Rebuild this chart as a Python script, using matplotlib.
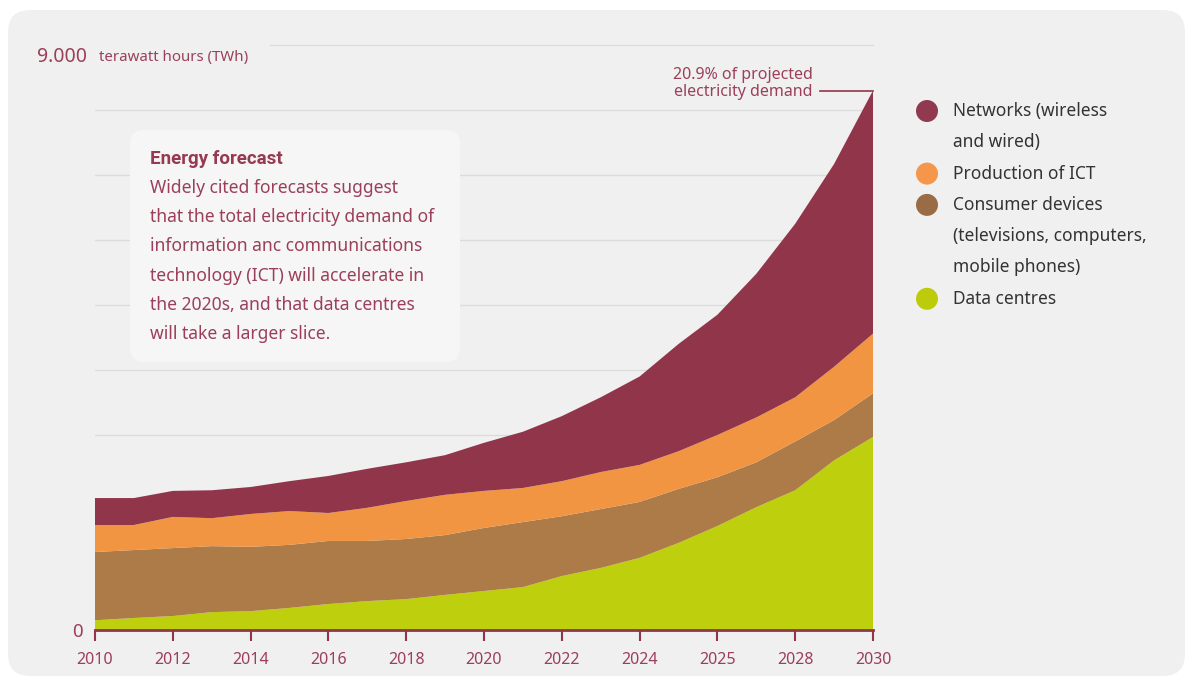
import matplotlib
matplotlib.use("Agg")
import matplotlib.pyplot as plt
from matplotlib.patches import FancyBboxPatch, Circle
from matplotlib.transforms import IdentityTransform, offset_copy
import numpy as np

plt.rcParams['font.family'] = ['Noto Sans', 'DejaVu Sans']

# values (TWh)
years = list(range(2010, 2031))
data_centres = [150, 185, 215, 275, 290, 340, 400, 445, 475, 540, 600,
                660, 830, 955, 1110, 1340, 1600, 1890, 2150, 2610, 2970]
consumer_devices = [1050, 1045, 1045, 1015, 990, 970, 970, 925, 925, 920, 970,
                    1000, 920, 905, 860, 830, 750, 690, 750, 620, 670]
production_ict = [415, 385, 480, 430, 505, 520, 430, 510, 585, 620, 570,
                  525, 540, 570, 570, 580, 650, 690, 680, 820, 920]
networks = [415, 415, 400, 430, 415, 460, 570, 600, 595, 610, 740,
            865, 1000, 1150, 1360, 1650, 1850, 2210, 2670, 3120, 3740]

tick_years = [2010, 2012, 2014, 2016, 2018, 2020, 2022, 2024, 2026, 2028, 2030]
tick_labels = ["2010", "2012", "2014", "2016", "2018", "2020", "2022", "2024",
               "2025", "2028", "2030"]

legend_labels = ["Networks (wireless\nand wired)", "Production of ICT",
                 "Consumer devices\n(televisions, computers,\nmobile phones)",
                 "Data centres"]

box_title = "Energy forecast"
box_lines = ["Widely cited forecasts suggest",
             "that the total electricity demand of",
             "information anc communications",
             "technology (ICT) will accelerate in",
             "the 2020s, and that data centres",
             "will take a larger slice."]

c_net = "#91364a"
c_prod = "#f29542"
c_cons = "#ad7b48"
c_data = "#becf0d"
maroon = "#9b3f5a"

W, H = 1190, 680
fig = plt.figure(figsize=(W / 100, H / 100), dpi=100)
fig.patch.set_facecolor("white")


def px(x, y):
    """pixel (from top-left) to figure fraction"""
    return x / W, 1 - y / H


# grey panel
panel = FancyBboxPatch((8, 4), 1177, H - 14,
                       boxstyle="round,pad=0,rounding_size=22",
                       transform=IdentityTransform(), facecolor="#f0f0f0",
                       edgecolor="none", zorder=0)
fig.add_artist(panel)

ax = fig.add_axes([95 / W, 50 / H, 778 / W, 585 / H])
ax.patch.set_visible(False)
ax.set_xlim(2010, 2030)
ax.set_ylim(0, 9000)

# gridlines
for v in range(1000, 9000, 1000):
    ax.plot([2010, 2030], [v, v], color="#dcdcdc", lw=1, zorder=1)
ax.plot([2014.5, 2030], [9000, 9000], color="#dcdcdc", lw=1, zorder=1, clip_on=False)

ax.stackplot(years, data_centres, consumer_devices, production_ict, networks,
             colors=[c_data, c_cons, c_prod, c_net], linewidth=0, zorder=2)

for s in ["top", "right", "left"]:
    ax.spines[s].set_visible(False)
ax.spines["bottom"].set_color("#8f3648")
ax.spines["bottom"].set_linewidth(2)
ax.spines["bottom"].set_zorder(3)
ax.set_xticks(tick_years)
ax.set_xticklabels(tick_labels)
ax.tick_params(axis="x", colors="#8f3648", length=8, width=1.5, pad=8,
               labelsize=11.5, labelcolor=maroon)
ax.set_yticks([0])
ax.set_yticklabels(["0"])
ax.tick_params(axis="y", length=0, pad=9, labelsize=13.5, labelcolor=maroon)

# top value label sits just under the 9000 line
below = offset_copy(ax.transData, fig=fig, x=0, y=-12, units="dots")
ax.text(2009.8, 9000, "9.000", transform=below, fontsize=14, color=maroon,
        ha="right", va="center")
ax.text(2010.1, 9000, "terawatt hours (TWh)", transform=below,
        fontsize=10.8, color=maroon, ha="left", va="center")

# annotation at the 2030 total
total = np.array(data_centres) + np.array(consumer_devices) + \
    np.array(production_ict) + np.array(networks)
ax.plot([2028.64, 2030], [total[-1], total[-1]], color=c_net, lw=1.2,
        zorder=3, clip_on=False)
ax.text(2028.45, total[-1] + 110, "20.9% of projected\nelectricity demand",
        fontsize=11.5, color=maroon, ha="right", va="center", linespacing=1.1)

# forecast box
box = FancyBboxPatch((130, H - 362), 330, 232,
                     boxstyle="round,pad=0,rounding_size=14",
                     transform=IdentityTransform(), facecolor="#f6f6f6",
                     edgecolor="none", zorder=5)
fig.add_artist(box)
fig.text(*px(150, 159), box_title, fontsize=13.5, fontweight="bold",
         family=["Roboto", "DejaVu Sans"],
         color="#963a52", va="center", ha="left", zorder=6)
for i, line in enumerate(box_lines):
    fig.text(*px(150, 188 + i * 29.2), line, fontsize=12.6, color=maroon,
             va="center", ha="left", zorder=6)

# legend
legend_colors = ["#913a4f", "#f5964a", "#9a6c45", "#bdcc0a"]
row = 0
for lab, col in zip(legend_labels, legend_colors):
    y0 = 111 + row * 31.3
    fig.add_artist(Circle((927, H - y0), 11, transform=IdentityTransform(),
                          facecolor=col, edgecolor="none"))
    for line in lab.split("\n"):
        fig.text(*px(953, 111 + row * 31.3), line, fontsize=12.5,
                 color="#333333", va="center", ha="left")
        row += 1

fig.savefig("out.png", dpi=100, facecolor=fig.get_facecolor())
